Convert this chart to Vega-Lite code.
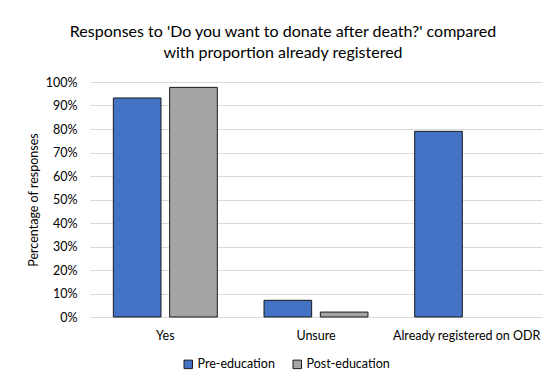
{
  "$schema": "https://vega.github.io/schema/vega-lite/v6.json",
  "autosize": {"type": "none"},
  "width": 452,
  "height": 235,
  "padding": {"left": 90, "top": 82, "right": 11, "bottom": 64},
  "background": "white",
  "title": {
    "text": ["Responses to 'Do you want to donate after death?' compared", "with proportion already registered"],
    "font": "Lato",
    "fontSize": 16,
    "fontWeight": "normal",
    "color": "#000000",
    "anchor": "middle",
    "dx": -33,
    "offset": 15,
    "lineHeight": 21
  },
  "data": {
    "values": [
      {"response": "Yes", "group": "Pre-education", "pct": 93.2},
      {"response": "Yes", "group": "Post-education", "pct": 97.7},
      {"response": "Unsure", "group": "Pre-education", "pct": 7.1},
      {"response": "Unsure", "group": "Post-education", "pct": 2.1},
      {"response": "Already registered on ODR", "group": "Pre-education", "pct": 79.0}
    ]
  },
  "mark": {"type": "bar", "stroke": "#1a1a1a", "strokeWidth": 1},
  "encoding": {
    "x": {
      "field": "response",
      "type": "nominal",
      "sort": ["Yes", "Unsure", "Already registered on ODR"],
      "scale": {"paddingInner": 0.31, "paddingOuter": 0.155},
      "axis": {
        "title": null,
        "labelAngle": 0,
        "labelFont": "Lato",
        "labelFontSize": 12.5,
        "labelColor": "#000000",
        "labelPadding": 12,
        "ticks": false,
        "domainColor": "#d9d9d9",
        "domainWidth": 1
      }
    },
    "xOffset": {
      "field": "group",
      "type": "nominal",
      "sort": ["Pre-education", "Post-education"],
      "scale": {"paddingInner": 0.154, "paddingOuter": 0}
    },
    "y": {
      "field": "pct",
      "type": "quantitative",
      "scale": {"domain": [0, 100]},
      "axis": {
        "title": "Percentage of responses",
        "titleFont": "Lato",
        "titleFontSize": 12.5,
        "titleFontWeight": "normal",
        "titleColor": "#000000",
        "titlePadding": 5,
        "values": [0, 10, 20, 30, 40, 50, 60, 70, 80, 90, 100],
        "labelExpr": "datum.value + '%'",
        "labelFont": "Lato",
        "labelFontSize": 12.5,
        "labelColor": "#000000",
        "labelPadding": 13,
        "ticks": false,
        "domain": false,
        "gridColor": "#d9d9d9",
        "gridWidth": 1
      }
    },
    "color": {
      "field": "group",
      "type": "nominal",
      "sort": ["Pre-education", "Post-education"],
      "scale": {"domain": ["Pre-education", "Post-education"], "range": ["#4472C4", "#A5A5A5"]},
      "legend": {
        "title": null,
        "orient": "none",
        "direction": "horizontal",
        "legendX": 92,
        "legendY": 276,
        "symbolType": "square",
        "symbolSize": 72,
        "symbolStrokeColor": "#1a1a1a",
        "symbolStrokeWidth": 1,
        "labelFont": "Lato",
        "labelFontSize": 12.5,
        "labelColor": "#000000",
        "labelOffset": 3,
        "columnPadding": 16
      }
    }
  },
  "config": {"view": {"stroke": null}}
}
